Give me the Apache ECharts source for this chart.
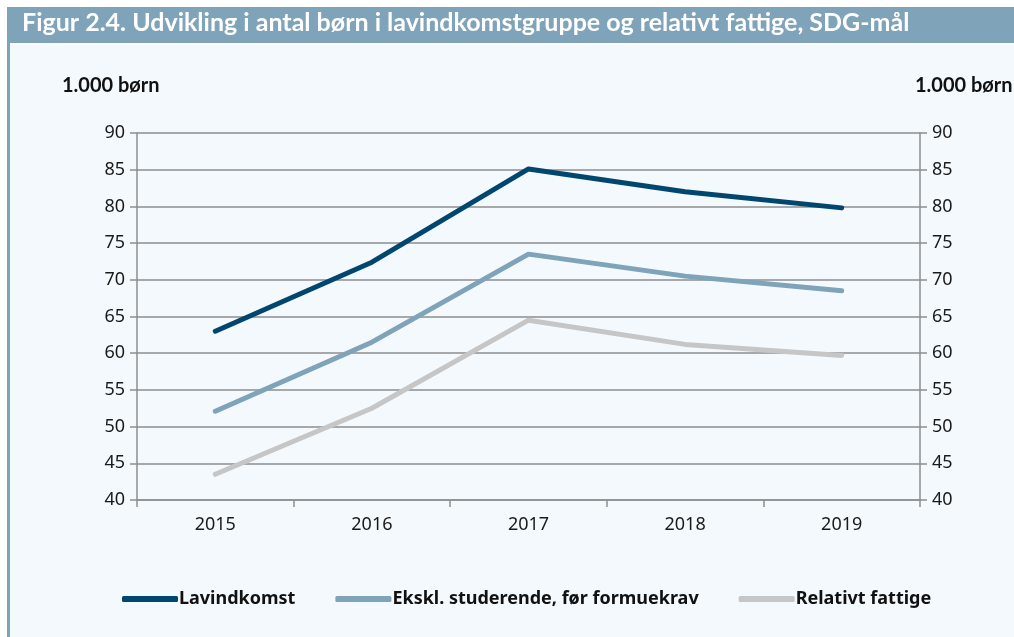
<!DOCTYPE html>
<html>
<head>
<meta charset="utf-8">
<script src="https://cdn.jsdelivr.net/npm/echarts@6/dist/echarts.min.js"></script>
<style>
  html, body { margin: 0; padding: 0; background: #ffffff; }
  #main { width: 1014px; height: 637px; }
</style>
</head>
<body>
<div id="main"></div>
<script>
// data (1.000 børn)
var years = ["2015", "2016", "2017", "2018", "2019"];
var lavindkomst = [63.0, 72.4, 85.1, 82.0, 79.8];
var eksklStuderende = [52.1, 61.5, 73.5, 70.5, 68.5];
var relativtFattige = [43.5, 52.5, 64.5, 61.2, 59.7];
var seriesNames = ["Lavindkomst", "Ekskl. studerende, før formuekrav", "Relativt fattige"];
var colors = ["#00466e", "#7fa3b8", "#c6c6c6"];

var titleText = "Figur 2.4. Udvikling i antal børn i lavindkomstgruppe og relativt fattige, SDG-mål";
var unitText = "1.000 børn";

var labelFont = "'Noto Sans', 'Open Sans', sans-serif";
var gridColor = "#8d8d8d";

var myChart = echarts.init(document.getElementById("main"));

function yAxisCfg(pos) {
  return {
    type: "value",
    position: pos,
    min: 40,
    max: 90,
    interval: 5,
    axisLine: { show: true, lineStyle: { color: gridColor, width: 1.5 } },
    axisTick: { show: true, length: 7, lineStyle: { color: gridColor, width: 1.5 } },
    splitLine: { show: pos === "left", lineStyle: { color: gridColor, width: 1.5 } },
    axisLabel: {
      color: "#1a1a1a",
      fontSize: 18,
      fontFamily: labelFont,
      margin: 12
    }
  };
}

myChart.setOption({
  backgroundColor: "#f4f9fd",
  animation: false,
  color: colors,
  graphic: [
    // white page edge above and left of the box
    { type: "rect", shape: { x: 0, y: 0, width: 1014, height: 7 }, style: { fill: "#ffffff" }, silent: true },
    { type: "rect", shape: { x: 0, y: 0, width: 7, height: 637 }, style: { fill: "#ffffff" }, silent: true },
    // title bar
    { type: "rect", shape: { x: 7, y: 7, width: 1007, height: 36 }, style: { fill: "#7fa3b8" }, silent: true },
    { type: "rect", shape: { x: 10, y: 43, width: 1004, height: 2 }, style: { fill: "#ffffff" }, silent: true },
    // left border bar
    { type: "rect", shape: { x: 7, y: 43, width: 3, height: 594 }, style: { fill: "#7fa3b8" }, silent: true },
    {
      type: "text", left: 22, top: 10,
      style: {
        text: titleText, fill: "#ffffff",
        font: "bold 25px Lato, 'Open Sans', sans-serif"
      }
    },
    {
      type: "text", left: 62, top: 76,
      style: { text: unitText, fill: "#111111", font: "bold 20px Lato, 'Open Sans', sans-serif" }
    },
    {
      type: "text", left: 915, top: 76,
      style: { text: unitText, fill: "#111111", font: "bold 20px Lato, 'Open Sans', sans-serif" }
    }
  ],
  legend: {
    left: 117,
    top: 585,
    itemGap: 40,
    itemWidth: 56,
    itemHeight: 6,
    icon: "roundRect",
    data: seriesNames,
    textStyle: {
      color: "#111111",
      fontSize: 18,
      fontWeight: "bold",
      fontFamily: "'Liberation Sans Narrow', 'Noto Sans', sans-serif",
      padding: [0, 0, 0, -4]
    }
  },
  grid: {
    left: 137,
    right: 94,
    top: 133,
    bottom: 137,
    containLabel: false
  },
  xAxis: {
    type: "category",
    data: years,
    boundaryGap: true,
    axisLine: { show: true, lineStyle: { color: gridColor, width: 1.5 } },
    axisTick: { show: true, length: 7, lineStyle: { color: gridColor, width: 1.5 } },
    axisLabel: {
      color: "#1a1a1a",
      fontSize: 18,
      fontFamily: labelFont,
      margin: 16
    }
  },
  yAxis: [yAxisCfg("left"), yAxisCfg("right")],
  series: [
    {
      name: seriesNames[0], type: "line", data: lavindkomst,
      symbol: "none", lineStyle: { width: 5, color: colors[0], cap: "round" }, z: 4
    },
    {
      name: seriesNames[1], type: "line", data: eksklStuderende,
      symbol: "none", lineStyle: { width: 5, color: colors[1], cap: "round" }, z: 3
    },
    {
      name: seriesNames[2], type: "line", data: relativtFattige,
      symbol: "none", lineStyle: { width: 5, color: colors[2], cap: "round" }, z: 2
    }
  ]
});
</script>
</body>
</html>
